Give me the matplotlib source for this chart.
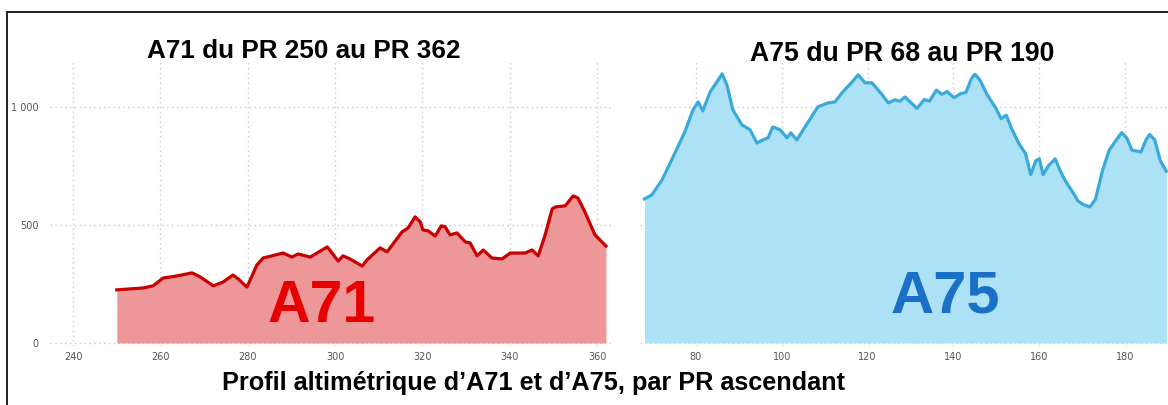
import matplotlib
matplotlib.use('Agg')
import matplotlib.pyplot as plt
from matplotlib.lines import Line2D

# %% data (PR, altitude in m)
a71_pr = [250, 256.0, 258.3, 260.6, 263.8, 267.2, 269.1, 272.1, 274.3, 276.6,
          277.8, 279.8, 282.1, 283.5, 288.1, 290.1, 291.5, 294.3, 298.2, 300.7,
          301.8, 303.4, 304.6, 306.2, 307.3, 310.3, 311.9, 315.3, 316.7, 318.3,
          319.5, 320.1, 321.3, 322.9, 324.3, 325.2, 326.3, 327.9, 329.8, 330.9,
          332.5, 333.9, 335.9, 338.2, 340.1, 343.5, 345.1, 346.5, 348.1, 349.7,
          350.4, 352.7, 354.5, 355.6, 357.2, 359.5, 362]
a71_alt = [225, 233, 242, 275, 284, 297, 280, 242, 258, 288,
           271, 237, 331, 360, 381, 364, 377, 364, 407, 347,
           369, 356, 343, 326, 352, 403, 386, 470, 487, 534,
           513, 479, 475, 453, 496, 492, 458, 466, 428, 424,
           369, 394, 360, 356, 381, 381, 394, 369, 458, 568,
           576, 581, 623, 614, 555, 458, 411]

a75_pr = [68, 69.7, 72.1, 75.1, 77.4, 79.3, 80.5, 81.6, 83.3, 84.9,
          86.1, 87.2, 88.6, 90.7, 92.6, 94.2, 95.6, 96.8, 97.9, 99.6,
          101.2, 102.1, 103.5, 105.4, 108.4, 110.8, 112.4, 114.0, 116.4, 117.8,
          119.4, 121.0, 123.4, 124.8, 126.4, 127.5, 128.7, 131.5, 133.2, 134.4,
          136.0, 137.3, 138.5, 140.1, 141.7, 142.9, 144.2, 145.0, 146.2, 147.8,
          149.9, 151.1, 152.3, 153.6, 155.2, 156.8, 158.0, 159.2, 160.0, 160.9,
          162.1, 163.7, 164.9, 166.2, 167.8, 169.0, 170.2, 171.8, 173.1, 174.7,
          176.3, 178.0, 179.2, 180.4, 181.6, 183.7, 184.9, 185.7, 186.9, 188.2,
          189.6]
a75_alt = [610, 627, 691, 805, 894, 987, 1021, 983, 1064, 1106,
           1140, 1093, 987, 924, 903, 847, 860, 869, 915, 903,
           869, 890, 860, 915, 1000, 1017, 1021, 1059, 1106, 1136,
           1102, 1102, 1051, 1017, 1030, 1024, 1042, 994, 1031, 1024,
           1071, 1053, 1065, 1039, 1056, 1061, 1120, 1138, 1113, 1053,
           994, 950, 965, 906, 846, 802, 713, 772, 780, 713,
           750, 780, 728, 683, 639, 602, 587, 576, 609, 728,
           817, 861, 891, 868, 817, 809, 861, 883, 861, 772,
           728]

a71_ticks = [240, 260, 280, 300, 320, 340, 360]
a75_ticks = [80, 100, 120, 140, 160, 180]
alt_ticks = [0, 500, 1000]
alt_labels = ['0', '500', '1 000']

title_a71 = 'A71 du PR 250 au PR 362'
title_a75 = 'A75 du PR 68 au PR 190'
caption = 'Profil altimétrique d\u2019A71 et d\u2019A75, par PR ascendant'

# %% figure
W, H = 1168, 405
fig = plt.figure(figsize=(W / 100, H / 100), dpi=100)
fig.patch.set_facecolor('white')


def px_rect(x0, y0, x1, y1):
    return [x0 / W, 1 - y1 / H, (x1 - x0) / W, (y1 - y0) / H]


ylim = (-12.7, 1190)
ax1 = fig.add_axes(px_rect(50, 62, 612, 346))
ax2 = fig.add_axes(px_rect(640, 62, 1168, 346))

for ax, ticks in [(ax1, a71_ticks), (ax2, a75_ticks)]:
    for s in ax.spines.values():
        s.set_visible(False)
    ax.set_ylim(*ylim)
    ax.set_xticks(ticks)
    ax.set_yticks(alt_ticks)
    ax.grid(True, linestyle=(0, (1, 2.5)), color='#c8c8c8', linewidth=1.0)
    ax.set_axisbelow(True)
    ax.tick_params(length=0, labelsize=7, labelcolor='#555555', pad=4)

ax1.set_xlim(234.7, 363.4)
ax2.set_xlim(66.95, 190.0)
ax1.set_yticklabels(alt_labels)
ax1.tick_params(axis='y', pad=8)
ax2.set_yticklabels([])

ax1.fill_between(a71_pr, 0, a71_alt, color='#ee9798', linewidth=0, zorder=2)
ax1.plot(a71_pr, a71_alt, color='#c80000', linewidth=2.3, zorder=3)
ax2.fill_between(a75_pr, 0, a75_alt, color='#ade1f6', linewidth=0, zorder=2)
ax2.plot(a75_pr, a75_alt, color='#3aaadc', linewidth=2.3, zorder=3)

fam = ['Liberation Sans', 'DejaVu Sans']
fig.text(304 / W, 1 - 51 / H, title_a71, ha='center', va='center',
         fontsize=18.8, fontweight='bold', family=fam)
fig.text(902 / W, 1 - 54 / H, title_a75, ha='center', va='center',
         fontsize=19.2, fontweight='bold', family=fam)
fig.text(322 / W, 1 - 307 / H, 'A71', ha='center', va='center',
         fontsize=42.5, fontweight='bold', color='#e80000', family=fam, zorder=5)
fig.text(945 / W, 1 - 297 / H, 'A75', ha='center', va='center',
         fontsize=43, fontweight='bold', color='#1a70c6', family=fam, zorder=5)
fig.text(533 / W, 1 - 383 / H, caption, ha='center', va='center',
         fontsize=18.2, fontweight='bold', family=fam)

# frame around the picture (left and top edges only, the rest is cut)
fig.add_artist(Line2D([7 / W, 7 / W], [0, 1 - 12 / H], transform=fig.transFigure,
                      color='#222222', linewidth=1.4))
fig.add_artist(Line2D([7 / W, 1], [1 - 12 / H, 1 - 12 / H], transform=fig.transFigure,
                      color='#222222', linewidth=1.4))

fig.savefig('out.png', dpi=100)
